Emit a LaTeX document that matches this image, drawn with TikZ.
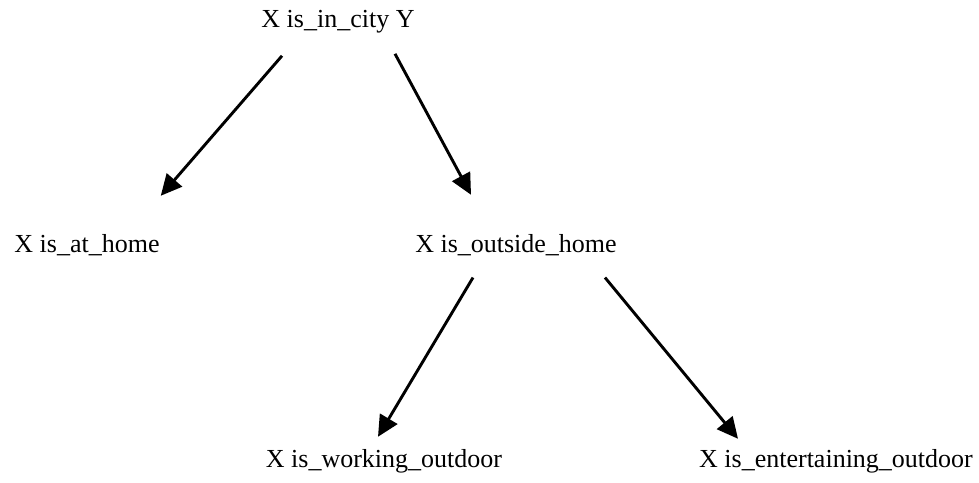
\documentclass[tikz,border=0pt]{standalone}
\usepackage{fontspec}
\setmainfont{Liberation Serif}
\usetikzlibrary{arrows.meta,calc}

\begin{document}
\begin{tikzpicture}[x=1pt, y=-1pt,
     fact/.style={inner sep=0pt, anchor=base, font=\fontsize{26}{30}\selectfont},
     arr/.style={-{Triangle[length=21pt, width=20pt]}, line width=2.9pt}]
     \useasboundingbox (0,0) rectangle (979,482);
     \node[fact] (city) at (338,27) {X is\_in\_city Y};
     \node[fact] (home) at (87,252) {X is\_at\_home};
     \node[fact] (out) at (516,252) {X is\_outside\_home};
     \node[fact] (work) at (384,467) {X is\_working\_outdoor};
     \node[fact] (fun) at (836,467) {X is\_entertaining\_outdoor};
     % arrows leave and reach the texts off centre, as drawn
     \draw[arr] ($(city.south)+(-56,23)$) -- ($(home.north east)+(1,-38)$);
     \draw[arr] ($(city.south)+(57,21)$) -- ($(out.north)+(-45,-39)$);
     \draw[arr] ($(out.south)+(-43,22)$) -- ($(work.north)+(-6,-12)$);
     \draw[arr] ($(out.south)+(89,22)$) -- ($(fun.north)+(-98,-10)$);
\end{tikzpicture}
\end{document}
